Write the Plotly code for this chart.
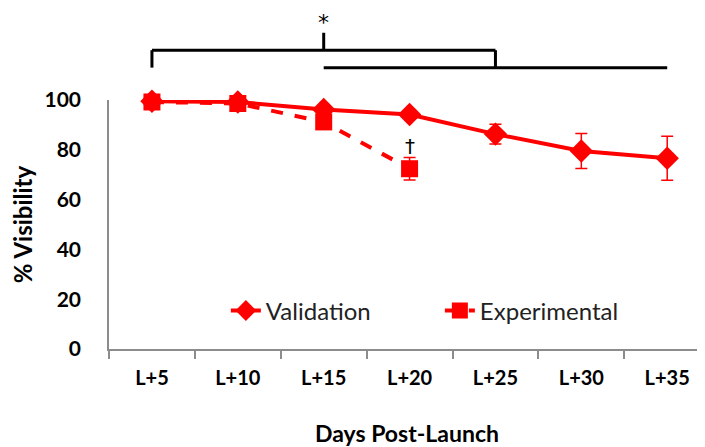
import plotly.graph_objects as go

days = ["L+5", "L+10", "L+15", "L+20", "L+25", "L+30", "L+35"]
validation = [99.5, 99.2, 96.2, 94.2, 86.3, 79.5, 76.6]
validation_err = [1.0, 1.0, 1.5, 1.5, 4.0, 7.0, 8.8]
exp_days = ["L+5", "L+10", "L+15", "L+20"]
experimental = [99.2, 98.6, 91.2, 72.4]
experimental_err = [1.0, 1.0, 1.5, 4.5]

# significance brackets (category indices, levels in % units above the axis)
bracket_top = (0, 4, 120.0, 113.0)   # from, to, level, end-drop level
bracket_low = (2, 6, 113.0)
star_pos = (2, 127.0, 131.0)          # tick at L+15 up to 127, star at 131
dagger = ("L+20", 81.5)

RED = "#FF0000"
FONT = "Lato"
XR = [-0.5, 6.44]
YR = [0, 100]

def xp(i):
    return (i - XR[0]) / (XR[1] - XR[0])

def yp(v):
    return (v - YR[0]) / (YR[1] - YR[0])

fig = go.Figure()
fig.add_trace(go.Scatter(
    x=days, y=validation, name="Validation", mode="lines+markers",
    line=dict(color=RED, width=4),
    marker=dict(symbol="diamond", size=18, color=RED),
    error_y=dict(type="data", array=validation_err, color=RED, thickness=1.5, width=6),
    cliponaxis=False,
))
fig.add_trace(go.Scatter(
    x=exp_days, y=experimental, name="Experimental", mode="lines+markers",
    line=dict(color=RED, width=4, dash="dash"),
    marker=dict(symbol="square", size=17, color=RED),
    error_y=dict(type="data", array=experimental_err, color=RED, thickness=1.5, width=6),
    cliponaxis=False,
))

line_style = dict(color="black", width=3)
a, b, lvl, drop = bracket_top
fig.add_shape(type="line", xref="paper", yref="paper", x0=xp(a), x1=xp(a), y0=yp(drop), y1=yp(lvl), line=line_style)
fig.add_shape(type="line", xref="paper", yref="paper", x0=xp(a), x1=xp(b), y0=yp(lvl), y1=yp(lvl), line=line_style)
fig.add_shape(type="line", xref="paper", yref="paper", x0=xp(b), x1=xp(b), y0=yp(lvl), y1=yp(drop), line=line_style)
a2, b2, lvl2 = bracket_low
fig.add_shape(type="line", xref="paper", yref="paper", x0=xp(a2), x1=xp(b2), y0=yp(lvl2), y1=yp(lvl2), line=line_style)
si, stop, sstar = star_pos
fig.add_shape(type="line", xref="paper", yref="paper", x0=xp(si), x1=xp(si), y0=yp(lvl), y1=yp(stop), line=line_style)
fig.add_annotation(xref="paper", yref="paper", x=xp(si), y=yp(sstar), text="*", showarrow=False,
                   font=dict(family="DejaVu Sans", size=22, color="black"), yanchor="middle")
fig.add_annotation(x=dagger[0], y=dagger[1], text="†", showarrow=False,
                   font=dict(family="DejaVu Sans", size=20, color="black"), yanchor="middle")

# page body has an 8px default margin, so the figure is 8px smaller than the window
fig.update_layout(
    width=697, height=439,
    margin=dict(l=101, r=0, t=92, b=98, autoexpand=False),
    paper_bgcolor="white", plot_bgcolor="white",
    font=dict(family=FONT, color="black"),
    showlegend=True,
    legend=dict(orientation="h", x=xp(0.5) + 0.052, y=yp(15.3), xanchor="left", yanchor="middle",
                font=dict(family=FONT, size=24, color="#222222"), bgcolor="rgba(0,0,0,0)",
                entrywidth=169, entrywidthmode="pixels", traceorder="normal"),
    xaxis=dict(
        type="category", categoryorder="array", categoryarray=days, range=XR,
        automargin=False,
        showline=True, linecolor="#8c8c8c", linewidth=1.5,
        ticks="outside", tickson="boundaries", ticklen=8, tickcolor="#8c8c8c", tickwidth=1.5,
        ticklabelstandoff=10,
        tickfont=dict(family=FONT, size=20, color="black", weight="bold"),
        showgrid=False, zeroline=False,
        title=dict(text="Days Post-Launch", font=dict(family=FONT, size=23, color="black", weight="bold"), standoff=38),
    ),
    yaxis=dict(
        range=YR, tickvals=[0, 20, 40, 60, 80, 100],
        automargin=False,
        showline=True, linecolor="#8c8c8c", linewidth=1.5,
        ticks="", showgrid=False, zeroline=False,
        ticklabelstandoff=22,
        tickfont=dict(family=FONT, size=21, color="black", weight="bold"),
        title=dict(text="% Visibility", font=dict(family=FONT, size=24, color="black", weight="bold"), standoff=8),
    ),
)

fig.write_html("out.html")
